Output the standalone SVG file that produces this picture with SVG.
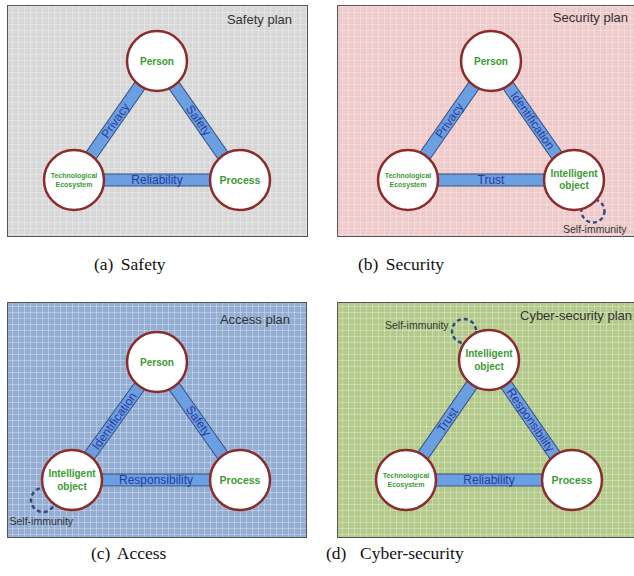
<svg xmlns="http://www.w3.org/2000/svg" width="634" height="576" viewBox="0 0 634 576">
<style>
.panel{stroke:#555;stroke-width:1}
.grid{fill:url(#grid)}
.bo{stroke:#30507f;stroke-width:13;fill:none}
.bi{stroke:#6c9ee2;stroke-width:11;fill:none}
.bl{font-family:"Liberation Sans",Arial,sans-serif;font-size:12px;fill:#2a3a9c;text-anchor:middle}
.nc{fill:#fff;stroke:#8a2c2c;stroke-width:2.5}
.nt{font-family:"Liberation Sans",Arial,sans-serif;font-weight:bold;fill:#3c9b32;text-anchor:middle}
.title{font-family:"Liberation Sans",Arial,sans-serif;font-size:13px;fill:#333;text-anchor:end}
.si{fill:none;stroke:#2c4a80;stroke-width:2.4;stroke-dasharray:4 3}
.sil{font-family:"Liberation Sans",Arial,sans-serif;font-size:10.5px;fill:#333}
.cap{font-family:"Liberation Serif","Times New Roman",serif;font-size:17.5px;fill:#111;word-spacing:3px}
</style>
<defs>
<pattern id="grid" patternUnits="userSpaceOnUse" width="6" height="6">
<path d="M0 0.5H6M0.5 0V6" stroke="#fff" stroke-opacity="0.3" stroke-width="1" fill="none"/>
</pattern>
</defs>
<rect width="634" height="576" fill="#fff"/>

<!-- Panel backgrounds -->
<rect class="panel" x="7.5" y="5.5" width="300" height="231" fill="#d7d7d7"/>
<rect class="grid" x="8" y="6" width="299" height="230"/>
<rect class="panel" x="337.5" y="5.5" width="300" height="231" fill="#eecaca"/>
<rect class="grid" x="338" y="6" width="299" height="230"/>
<rect class="panel" x="7.5" y="302.5" width="299" height="235" fill="#94add2"/>
<rect class="grid" x="8" y="303" width="298" height="234"/>
<rect class="panel" x="337.5" y="302.5" width="300" height="235" fill="#b3ca8b"/>
<rect class="grid" x="338" y="303" width="299" height="234"/>

<!-- Panel titles -->
<text class="title" x="292" y="23.5">Safety plan</text>
<text class="title" x="628" y="22">Security plan</text>
<text class="title" x="290" y="323.5">Access plan</text>
<text class="title" x="632" y="320">Cyber-security plan</text>

<!-- Connectors -->
<g id="connectors">
  <g transform="translate(0,0)">
    <line class="bo" x1="74" y1="180" x2="157" y2="61"/><line class="bi" x1="74" y1="180" x2="157" y2="61"/>
    <line class="bo" x1="157" y1="61" x2="240" y2="180"/><line class="bi" x1="157" y1="61" x2="240" y2="180"/>
    <line class="bo" x1="74" y1="180" x2="240" y2="180"/><line class="bi" x1="74" y1="180" x2="240" y2="180"/>
    <text class="bl" transform="translate(115.5,120.5) rotate(-55.1)" y="4">Privacy</text>
    <text class="bl" transform="translate(198.5,120.5) rotate(55.1)" y="4">Safety</text>
    <text class="bl" x="157" y="184">Reliability</text>
  </g>
  <g transform="translate(334,0)">
    <line class="bo" x1="74" y1="180" x2="157" y2="61"/><line class="bi" x1="74" y1="180" x2="157" y2="61"/>
    <line class="bo" x1="157" y1="61" x2="240" y2="180"/><line class="bi" x1="157" y1="61" x2="240" y2="180"/>
    <line class="bo" x1="74" y1="180" x2="240" y2="180"/><line class="bi" x1="74" y1="180" x2="240" y2="180"/>
    <text class="bl" transform="translate(115.5,120.5) rotate(-55.1)" y="4">Privacy</text>
    <text class="bl" transform="translate(198.5,120.5) rotate(55.1)" y="4">Identification</text>
    <text class="bl" x="157" y="184">Trust</text>
  </g>
  <g transform="translate(0,301)">
    <line class="bo" x1="72" y1="179" x2="157" y2="61"/><line class="bi" x1="72" y1="179" x2="157" y2="61"/>
    <line class="bo" x1="157" y1="61" x2="240" y2="179"/><line class="bi" x1="157" y1="61" x2="240" y2="179"/>
    <line class="bo" x1="72" y1="179" x2="240" y2="179"/><line class="bi" x1="72" y1="179" x2="240" y2="179"/>
    <text class="bl" transform="translate(114.5,120) rotate(-54.2)" y="4">Identification</text>
    <text class="bl" transform="translate(198.5,120) rotate(55.1)" y="4">Safety</text>
    <text class="bl" x="156" y="183">Responsibility</text>
  </g>
  <g transform="translate(332,300)">
    <line class="bo" x1="74" y1="180" x2="157" y2="60"/><line class="bi" x1="74" y1="180" x2="157" y2="60"/>
    <line class="bo" x1="157" y1="60" x2="240" y2="180"/><line class="bi" x1="157" y1="60" x2="240" y2="180"/>
    <line class="bo" x1="74" y1="180" x2="240" y2="180"/><line class="bi" x1="74" y1="180" x2="240" y2="180"/>
    <text class="bl" transform="translate(115.5,120) rotate(-55.3)" y="4">Trust</text>
    <text class="bl" transform="translate(198.5,120) rotate(55.3)" y="4">Responsibility</text>
    <text class="bl" x="157" y="184">Reliability</text>
  </g>
  <circle class="si" cx="593" cy="211" r="11.5"/>
  <circle class="si" cx="43" cy="500" r="12"/>
  <circle class="si" cx="464" cy="331" r="12"/>
</g>

<!-- Self-immunity labels -->
<text class="sil" x="563" y="233">Self-immunity</text>
<text class="sil" x="9.5" y="524.5">Self-immunity</text>
<text class="sil" x="385" y="329">Self-immunity</text>

<!-- Panel a nodes -->
<g id="a-person"><circle class="nc" cx="157" cy="61" r="30"/><text class="nt" x="157" y="64.5" font-size="10">Person</text></g>
<g id="a-eco"><circle class="nc" cx="74" cy="180" r="30"/><text class="nt" x="74" y="178" font-size="7">Technological</text><text class="nt" x="74" y="186.5" font-size="7">Ecosystem</text></g>
<g id="a-process"><circle class="nc" cx="240" cy="180" r="30"/><text class="nt" x="240" y="183.7" font-size="10.5">Process</text></g>

<!-- Panel b nodes -->
<g id="b-person"><circle class="nc" cx="491" cy="61" r="30"/><text class="nt" x="491" y="64.5" font-size="10">Person</text></g>
<g id="b-eco"><circle class="nc" cx="408" cy="180" r="30"/><text class="nt" x="408" y="178" font-size="7">Technological</text><text class="nt" x="408" y="186.5" font-size="7">Ecosystem</text></g>
<g id="b-object"><circle class="nc" cx="574" cy="180" r="30"/><text class="nt" x="574" y="177.3" font-size="10">Intelligent</text><text class="nt" x="574" y="189.3" font-size="10">object</text></g>

<!-- Panel c nodes -->
<g id="c-person"><circle class="nc" cx="157" cy="362" r="30"/><text class="nt" x="157" y="365.5" font-size="10">Person</text></g>
<g id="c-object"><circle class="nc" cx="72" cy="480" r="30"/><text class="nt" x="72" y="477" font-size="10">Intelligent</text><text class="nt" x="72" y="490" font-size="10">object</text></g>
<g id="c-process"><circle class="nc" cx="240" cy="480" r="30"/><text class="nt" x="240" y="483.7" font-size="10.5">Process</text></g>

<!-- Panel d nodes -->
<g id="d-object"><circle class="nc" cx="489" cy="360" r="30"/><text class="nt" x="489" y="357" font-size="10">Intelligent</text><text class="nt" x="489" y="370" font-size="10">object</text></g>
<g id="d-eco"><circle class="nc" cx="406" cy="480" r="30"/><text class="nt" x="406" y="478" font-size="7">Technological</text><text class="nt" x="406" y="486.5" font-size="7">Ecosystem</text></g>
<g id="d-process"><circle class="nc" cx="572" cy="480" r="30"/><text class="nt" x="572" y="483.7" font-size="10.5">Process</text></g>

<!-- Captions -->
<text class="cap" x="94" y="270">(a) Safety</text>
<text class="cap" x="358" y="270">(b) Security</text>
<text class="cap" x="91" y="559">(c) Access</text>
<text class="cap" x="326" y="559">(d)<tspan x="360">Cyber-security</tspan></text>
</svg>
